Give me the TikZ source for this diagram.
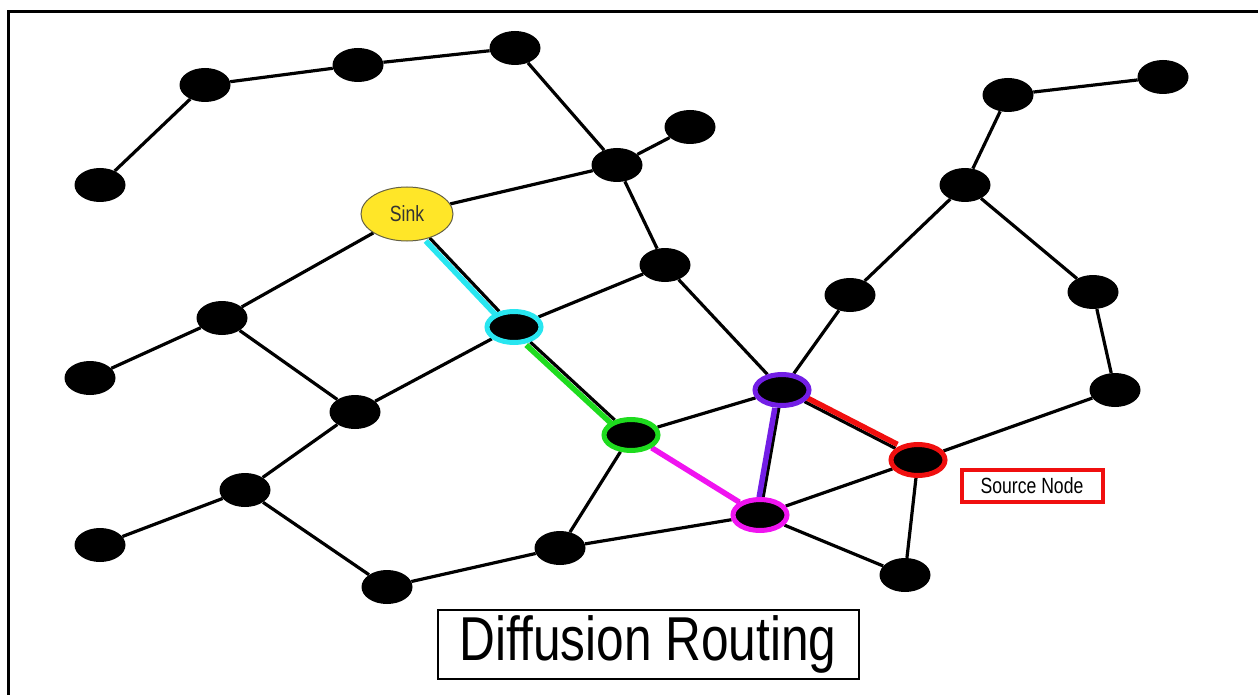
\documentclass[tikz,border=0pt]{standalone}
\usepackage{fontspec}
\setmainfont{Liberation Sans}
\usetikzlibrary{shapes.geometric,backgrounds}

\tikzset{
  sensor/.style = {ellipse, fill=black, minimum width=51pt, minimum height=34pt, inner sep=0pt},
  hop/.style = {sensor, draw=#1, line width=5pt, minimum width=54pt, minimum height=31pt},
  link/.style = {line width=3.2pt, black},
  route/.style = {line width=5.5pt, #1}
}
\definecolor{sinkyellow}{RGB}{255,230,40}
\definecolor{routecyan}{RGB}{40,230,240}
\definecolor{routegreen}{RGB}{30,220,30}
\definecolor{routemagenta}{RGB}{240,20,240}
\definecolor{routepurple}{RGB}{115,30,230}
\definecolor{routered}{RGB}{240,15,15}

\begin{document}
\begin{tikzpicture}[x=1pt, y=-1pt]
    \useasboundingbox (0,0) rectangle (1258,695);
    % frame
    \draw[line width=3pt] (8,695) -- (8,12) -- (1258,12);
    % plain sensors
    \foreach \name/\pos in {a/{(100,185)}, b/{(205,85)}, c/{(358,65)}, d/{(515,48)},
        e/{(690,127)}, f/{(617,165)}, g/{(665,265)}, h/{(222,318)}, i/{(90,378)},
        j/{(355,412)}, k/{(245,490)}, l/{(100,545)}, m/{(387,587)}, n/{(560,548)},
        o/{(905,575)}, q/{(850,295)}, r/{(965,185)}, s/{(1008,95)}, t/{(1163,77)},
        u/{(1093,292)}, v/{(1115,390)}}
        \node[sensor] (\name) at \pos {};
    % sink
    \node[ellipse, fill=sinkyellow, draw=black!70!yellow, line width=1pt,
          minimum width=92pt, minimum height=54pt, inner sep=0pt,
          text=black!80, font=\fontsize{22}{22}\selectfont] (sink) at (407,214)
          {\scalebox{0.8}[1]{Sink}};
    % nodes on the route
    \node[hop=routecyan] (p1) at (514,327) {};
    \node[hop=routegreen] (p2) at (631,435) {};
    \node[hop=routemagenta] (p3) at (760,515) {};
    \node[hop=routepurple] (p4) at (782,390) {};
    \node[hop=routered] (src) at (918,460) {};
    % links
    \begin{scope}[on background layer]
        \foreach \u/\v in {a/b, b/c, c/d, d/f, f/e, sink/f, f/g, g/p1, g/p4,
            sink/h, sink/p1, h/i, h/j, j/p1, j/k, k/l, k/m, m/n, n/p2, n/p3,
            p1/p2, p2/p3, p2/p4, p3/p4, p4/src, p3/src, p3/o, src/o, src/v,
            p4/q, q/r, r/s, s/t, r/u, u/v}
            \draw[link] (\u) -- (\v);
        % route back to the sink
        \draw[route=routecyan, transform canvas={xshift=-4pt, yshift=-3pt}] (sink) -- (p1);
        \draw[route=routegreen, transform canvas={xshift=-4pt, yshift=-3pt}] (p1) -- (p2);
        \draw[route=routemagenta] (p2) -- (p3);
        \draw[route=routepurple, transform canvas={xshift=-4pt}] (p3) -- (p4);
        \draw[route=routered, transform canvas={xshift=2pt, yshift=4pt}] (p4) -- (src);
    \end{scope}
    % labels
    \node[draw=routered, line width=4pt, minimum width=141pt, minimum height=32pt,
          inner sep=0pt, font=\fontsize{22}{22}\selectfont] (lbl) at (1032,486)
          {\scalebox{0.8}[1]{Source Node}};
    \node[draw, line width=2pt, minimum width=421pt, minimum height=69pt,
          inner sep=0pt, font=\fontsize{62}{62}\selectfont] (title) at (648,644)
          {\scalebox{0.8}[1]{Diffusion Routing}};
\end{tikzpicture}
\end{document}
